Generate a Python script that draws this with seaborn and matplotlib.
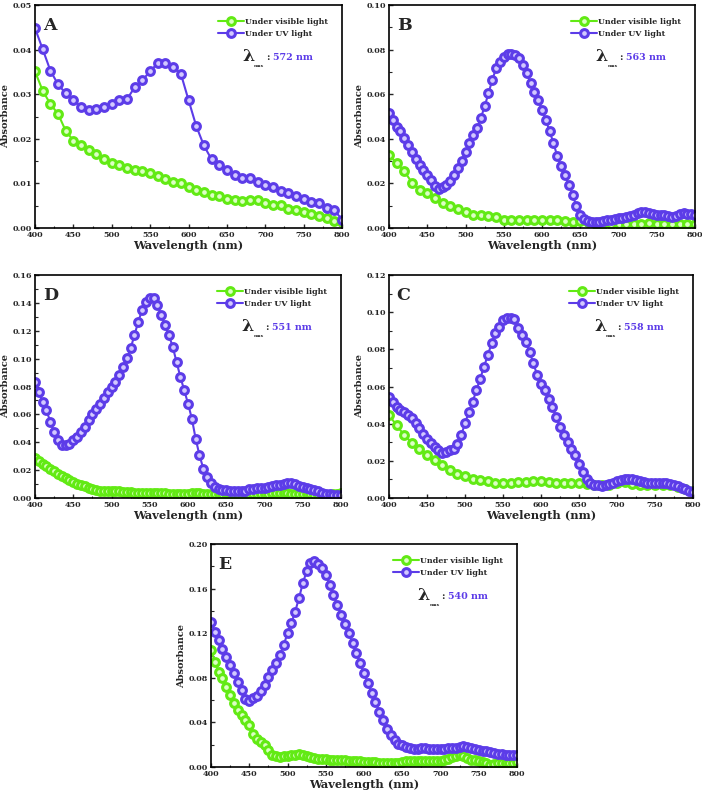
import numpy as np
import pandas as pd
import matplotlib
matplotlib.use("Agg")
import matplotlib.pyplot as plt
from matplotlib.ticker import MultipleLocator, FormatStrFormatter
import seaborn as sns

sns.set_style("ticks")
plt.rcParams['font.family'] = ['DejaVu Serif']
plt.rcParams['font.weight'] = 'bold'

# ---------------- data ----------------
wl10 = list(range(400, 801, 10))
wl5 = list(range(400, 801, 5))

# Panel A (10 nm spacing)
A_vis = [0.0351, 0.0308, 0.0278, 0.0256, 0.0218, 0.0196, 0.0185, 0.0174, 0.0166, 0.0154,
         0.0146, 0.0142, 0.0134, 0.0129, 0.0127, 0.0123, 0.0117, 0.0110, 0.0104, 0.0102,
         0.0093, 0.0086, 0.0081, 0.0075, 0.0071, 0.0065, 0.0062, 0.0061, 0.0062, 0.0063,
         0.0056, 0.0052, 0.0051, 0.0043, 0.0040, 0.0036, 0.0032, 0.0028, 0.0022, 0.0016,
         0.0013]
A_uv = [0.0448, 0.0401, 0.0353, 0.0322, 0.0302, 0.0287, 0.0272, 0.0265, 0.0266, 0.0272,
        0.0279, 0.0287, 0.0289, 0.0316, 0.0332, 0.0351, 0.0370, 0.0371, 0.0362, 0.0346,
        0.0287, 0.0229, 0.0185, 0.0154, 0.0142, 0.0129, 0.0119, 0.0112, 0.0113, 0.0104,
        0.0097, 0.0092, 0.0084, 0.0078, 0.0072, 0.0066, 0.0058, 0.0056, 0.0045, 0.0040,
        0.0019]

# Panel B
B_vis = [0.0328, 0.0291, 0.0254, 0.0204, 0.0172, 0.0157, 0.0134, 0.0112, 0.0097, 0.0087,
         0.0070, 0.0060, 0.0060, 0.0055, 0.0049, 0.0037, 0.0034, 0.0036, 0.0036, 0.0036,
         0.0034, 0.0036, 0.0037, 0.0030, 0.0025, 0.0030, 0.0025, 0.0019, 0.0018, 0.0018,
         0.0019, 0.0019, 0.0019, 0.0019, 0.0022, 0.0019, 0.0019, 0.0016, 0.0018, 0.0018,
         0.0019]
B_uv = [0.0515, 0.0485, 0.0455, 0.0433, 0.0403, 0.0373, 0.0343, 0.0309, 0.0284, 0.0261,
        0.0239, 0.0216, 0.0187, 0.0176, 0.0182, 0.0194, 0.0209, 0.0239, 0.0269, 0.0299,
        0.0343, 0.0381, 0.0418, 0.0448, 0.0493, 0.0545, 0.0604, 0.0664, 0.0716, 0.0746,
        0.0769, 0.0779, 0.0781, 0.0776, 0.0761, 0.0731, 0.0694, 0.0649, 0.0612, 0.0575,
        0.0530, 0.0485, 0.0433, 0.0381, 0.0321, 0.0276, 0.0239, 0.0194, 0.0149, 0.0097,
        0.0060, 0.0040, 0.0030, 0.0025, 0.0025, 0.0028, 0.0031, 0.0034, 0.0037, 0.0040,
        0.0043, 0.0046, 0.0049, 0.0052, 0.0060, 0.0067, 0.0072, 0.0070, 0.0067, 0.0064,
        0.0060, 0.0060, 0.0058, 0.0055, 0.0049, 0.0052, 0.0063, 0.0067, 0.0064, 0.0063,
        0.0060]

# Panel D
D_vis = [0.0287, 0.0263, 0.0247, 0.0230, 0.0211, 0.0192, 0.0175, 0.0156, 0.0144, 0.0132,
         0.0115, 0.0103, 0.0091, 0.0084, 0.0074, 0.0062, 0.0055, 0.0053, 0.0053, 0.0050,
         0.0050, 0.0048, 0.0048, 0.0046, 0.0043, 0.0041, 0.0038, 0.0038, 0.0038, 0.0038,
         0.0038, 0.0038, 0.0036, 0.0034, 0.0034, 0.0031, 0.0031, 0.0029, 0.0029, 0.0029,
         0.0031, 0.0034, 0.0036, 0.0036, 0.0031, 0.0029, 0.0029, 0.0029, 0.0029, 0.0031,
         0.0034, 0.0031, 0.0029, 0.0029, 0.0029, 0.0029, 0.0029, 0.0031, 0.0031, 0.0031,
         0.0031, 0.0031, 0.0034, 0.0034, 0.0036, 0.0036, 0.0034, 0.0031, 0.0031, 0.0031,
         0.0031, 0.0029, 0.0026, 0.0024, 0.0022, 0.0019, 0.0019, 0.0024, 0.0029, 0.0031,
         0.0034]
D_uv = [0.0834, 0.0762, 0.0690, 0.0630, 0.0546, 0.0474, 0.0414, 0.0383, 0.0378, 0.0390,
        0.0414, 0.0438, 0.0474, 0.0510, 0.0558, 0.0606, 0.0642, 0.0678, 0.0714, 0.0762,
        0.0798, 0.0834, 0.0881, 0.0941, 0.1001, 0.1073, 0.1169, 0.1265, 0.1349, 0.1408,
        0.1437, 0.1432, 0.1384, 0.1313, 0.1241, 0.1169, 0.1085, 0.0977, 0.0869, 0.0774,
        0.0678, 0.0570, 0.0426, 0.0307, 0.0211, 0.0151, 0.0108, 0.0079, 0.0067, 0.0060,
        0.0055, 0.0050, 0.0050, 0.0050, 0.0050, 0.0053, 0.0062, 0.0067, 0.0072, 0.0072,
        0.0074, 0.0079, 0.0086, 0.0096, 0.0096, 0.0098, 0.0108, 0.0110, 0.0103, 0.0086,
        0.0079, 0.0074, 0.0067, 0.0055, 0.0048, 0.0038, 0.0031, 0.0026, 0.0024, 0.0024,
        0.0024]

# Panel C
C_vis = [0.0445, 0.0392, 0.0338, 0.0298, 0.0266, 0.0234, 0.0203, 0.0176, 0.0149, 0.0131,
         0.0119, 0.0101, 0.0095, 0.0090, 0.0081, 0.0083, 0.0083, 0.0084, 0.0086, 0.0090,
         0.0090, 0.0086, 0.0083, 0.0083, 0.0083, 0.0083, 0.0077, 0.0072, 0.0068, 0.0072,
         0.0081, 0.0086, 0.0077, 0.0068, 0.0068, 0.0068, 0.0068, 0.0072, 0.0059, 0.0050,
         0.0036]
C_uv = [0.0544, 0.0517, 0.0490, 0.0476, 0.0463, 0.0449, 0.0428, 0.0401, 0.0374, 0.0347,
        0.0320, 0.0298, 0.0275, 0.0257, 0.0243, 0.0248, 0.0260, 0.0266, 0.0293, 0.0338,
        0.0401, 0.0463, 0.0517, 0.0580, 0.0643, 0.0706, 0.0769, 0.0832, 0.0886, 0.0922,
        0.0957, 0.0970, 0.0966, 0.0963, 0.0913, 0.0877, 0.0837, 0.0787, 0.0724, 0.0661,
        0.0616, 0.0580, 0.0535, 0.0490, 0.0436, 0.0383, 0.0338, 0.0302, 0.0266, 0.0230,
        0.0185, 0.0140, 0.0101, 0.0081, 0.0072, 0.0068, 0.0063, 0.0072, 0.0077, 0.0081,
        0.0090, 0.0099, 0.0104, 0.0104, 0.0101, 0.0095, 0.0090, 0.0086, 0.0083, 0.0083,
        0.0081, 0.0083, 0.0083, 0.0081, 0.0077, 0.0068, 0.0063, 0.0056, 0.0047, 0.0038,
        0.0032]

# Panel E
E_vis = [0.1049, 0.0945, 0.0855, 0.0795, 0.0720, 0.0645, 0.0570, 0.0510, 0.0465, 0.0420,
         0.0375, 0.0300, 0.0255, 0.0225, 0.0195, 0.0150, 0.0111, 0.0096, 0.0093, 0.0096,
         0.0099, 0.0105, 0.0111, 0.0117, 0.0105, 0.0099, 0.0090, 0.0081, 0.0075, 0.0075,
         0.0069, 0.0066, 0.0060, 0.0066, 0.0066, 0.0060, 0.0057, 0.0054, 0.0054, 0.0051,
         0.0045, 0.0045, 0.0045, 0.0042, 0.0039, 0.0039, 0.0039, 0.0039, 0.0039, 0.0039,
         0.0045, 0.0051, 0.0051, 0.0051, 0.0051, 0.0051, 0.0051, 0.0051, 0.0051, 0.0051,
         0.0054, 0.0060, 0.0075, 0.0090, 0.0099, 0.0105, 0.0099, 0.0084, 0.0066, 0.0060,
         0.0054, 0.0045, 0.0036, 0.0021, 0.0024, 0.0036, 0.0039, 0.0039, 0.0039, 0.0039,
         0.0045]
E_uv = [0.1304, 0.1214, 0.1139, 0.1058, 0.0990, 0.0915, 0.0840, 0.0765, 0.0690, 0.0609,
        0.0591, 0.0615, 0.0639, 0.0681, 0.0735, 0.0810, 0.0870, 0.0930, 0.1004, 0.1094,
        0.1199, 0.1289, 0.1394, 0.1514, 0.1649, 0.1754, 0.1829, 0.1844, 0.1820, 0.1784,
        0.1724, 0.1634, 0.1544, 0.1454, 0.1364, 0.1280, 0.1199, 0.1109, 0.1019, 0.0930,
        0.0840, 0.0750, 0.0660, 0.0585, 0.0495, 0.0420, 0.0345, 0.0285, 0.0240, 0.0210,
        0.0195, 0.0180, 0.0171, 0.0165, 0.0165, 0.0171, 0.0171, 0.0165, 0.0165, 0.0165,
        0.0165, 0.0165, 0.0171, 0.0171, 0.0174, 0.0180, 0.0186, 0.0180, 0.0171, 0.0159,
        0.0150, 0.0141, 0.0141, 0.0135, 0.0126, 0.0120, 0.0114, 0.0111, 0.0111, 0.0108,
        0.0105]

panels = [
    # letter, x_vis, y_vis, x_uv, y_uv, ymax, ystep, lambda text, axes rect (px: left, top, right, bottom)
    ("A", wl10, A_vis, wl10, A_uv, 0.05, 0.01, "572 nm", (35, 5, 342, 228)),
    ("B", wl10, B_vis, wl5, B_uv, 0.10, 0.02, "563 nm", (389, 5, 695, 228)),
    ("D", wl5, D_vis, wl5, D_uv, 0.16, 0.02, "551 nm", (35, 275, 341, 498)),
    ("C", wl10, C_vis, wl5, C_uv, 0.12, 0.02, "558 nm", (389, 275, 693, 498)),
    ("E", wl5, E_vis, wl5, E_uv, 0.20, 0.04, "540 nm", (211, 544, 517, 767)),
]

labels = ["Under visible light", "Under UV light"]
green, green_face = "#62ea14", "#dcffc4"
purple, purple_face = "#5c3ce8", "#d2c8ff"

W, H = 702, 799
fig = plt.figure(figsize=(W / 100, H / 100), dpi=100)

for letter, xv, yv, xu, yu, ymax, ystep, lam, (l, t, r, b) in panels:
    ax = fig.add_axes([l / W, 1 - b / H, (r - l) / W, (b - t) / H])
    dv = pd.DataFrame({"Wavelength": xv, "Absorbance": yv})
    du = pd.DataFrame({"Wavelength": xu, "Absorbance": yu})
    sns.lineplot(data=dv, x="Wavelength", y="Absorbance", ax=ax, color=green,
                 marker="o", markersize=5.6, markerfacecolor=green_face,
                 markeredgecolor=green, markeredgewidth=2.2, linewidth=1.5,
                 label=labels[0])
    sns.lineplot(data=du, x="Wavelength", y="Absorbance", ax=ax, color=purple,
                 marker="o", markersize=5.6, markerfacecolor=purple_face,
                 markeredgecolor=purple, markeredgewidth=2.2, linewidth=1.5,
                 label=labels[1])
    ax.set_xlim(400, 800)
    ax.set_ylim(0, ymax)
    ax.xaxis.set_major_locator(MultipleLocator(50))
    ax.xaxis.set_minor_locator(MultipleLocator(25))
    ax.yaxis.set_major_locator(MultipleLocator(ystep))
    ax.yaxis.set_minor_locator(MultipleLocator(ystep / 2))
    ax.yaxis.set_major_formatter(FormatStrFormatter("%.2f"))
    ax.tick_params(which="major", direction="in", length=3, width=1.0,
                   labelsize=5.8, pad=2, top=False, right=False)
    ax.tick_params(which="minor", direction="in", length=1.8, width=0.8,
                   top=False, right=False)
    for lab in ax.get_xticklabels() + ax.get_yticklabels():
        lab.set_fontweight("bold")
    for sp in ax.spines.values():
        sp.set_linewidth(1.2)
        sp.set_color("black")
    ax.set_xlabel("Wavelength (nm)", fontsize=8.2, fontweight="bold", labelpad=1)
    ax.set_ylabel("Absorbance", fontsize=7, fontweight="bold", labelpad=2)

    leg = ax.legend(loc="upper right", bbox_to_anchor=(0.965, 0.955),
                    borderaxespad=0, frameon=False, fontsize=5.8,
                    handlelength=3.2, handletextpad=0.15, labelspacing=0.45,
                    borderpad=0.4)
    for txt in leg.get_texts():
        txt.set_fontweight("bold")

    ax.text(0.025, 0.89, letter, transform=ax.transAxes, fontsize=12.5,
            fontweight="bold", ha="left", va="baseline")

    ax.text(0.675, 0.75, "λ", transform=ax.transAxes, fontsize=12.5,
            fontweight="bold", ha="left", va="baseline")
    ax.text(0.714, 0.722, "max", transform=ax.transAxes, fontsize=3.2,
            fontweight="bold", ha="left", va="baseline")
    ax.text(0.752, 0.753, ":", transform=ax.transAxes, fontsize=6.8,
            fontweight="bold", ha="left", va="baseline")
    ax.text(0.774, 0.753, lam, transform=ax.transAxes, fontsize=6.8,
            fontweight="bold", color=purple, ha="left", va="baseline")

fig.savefig("out.png", dpi=100)
